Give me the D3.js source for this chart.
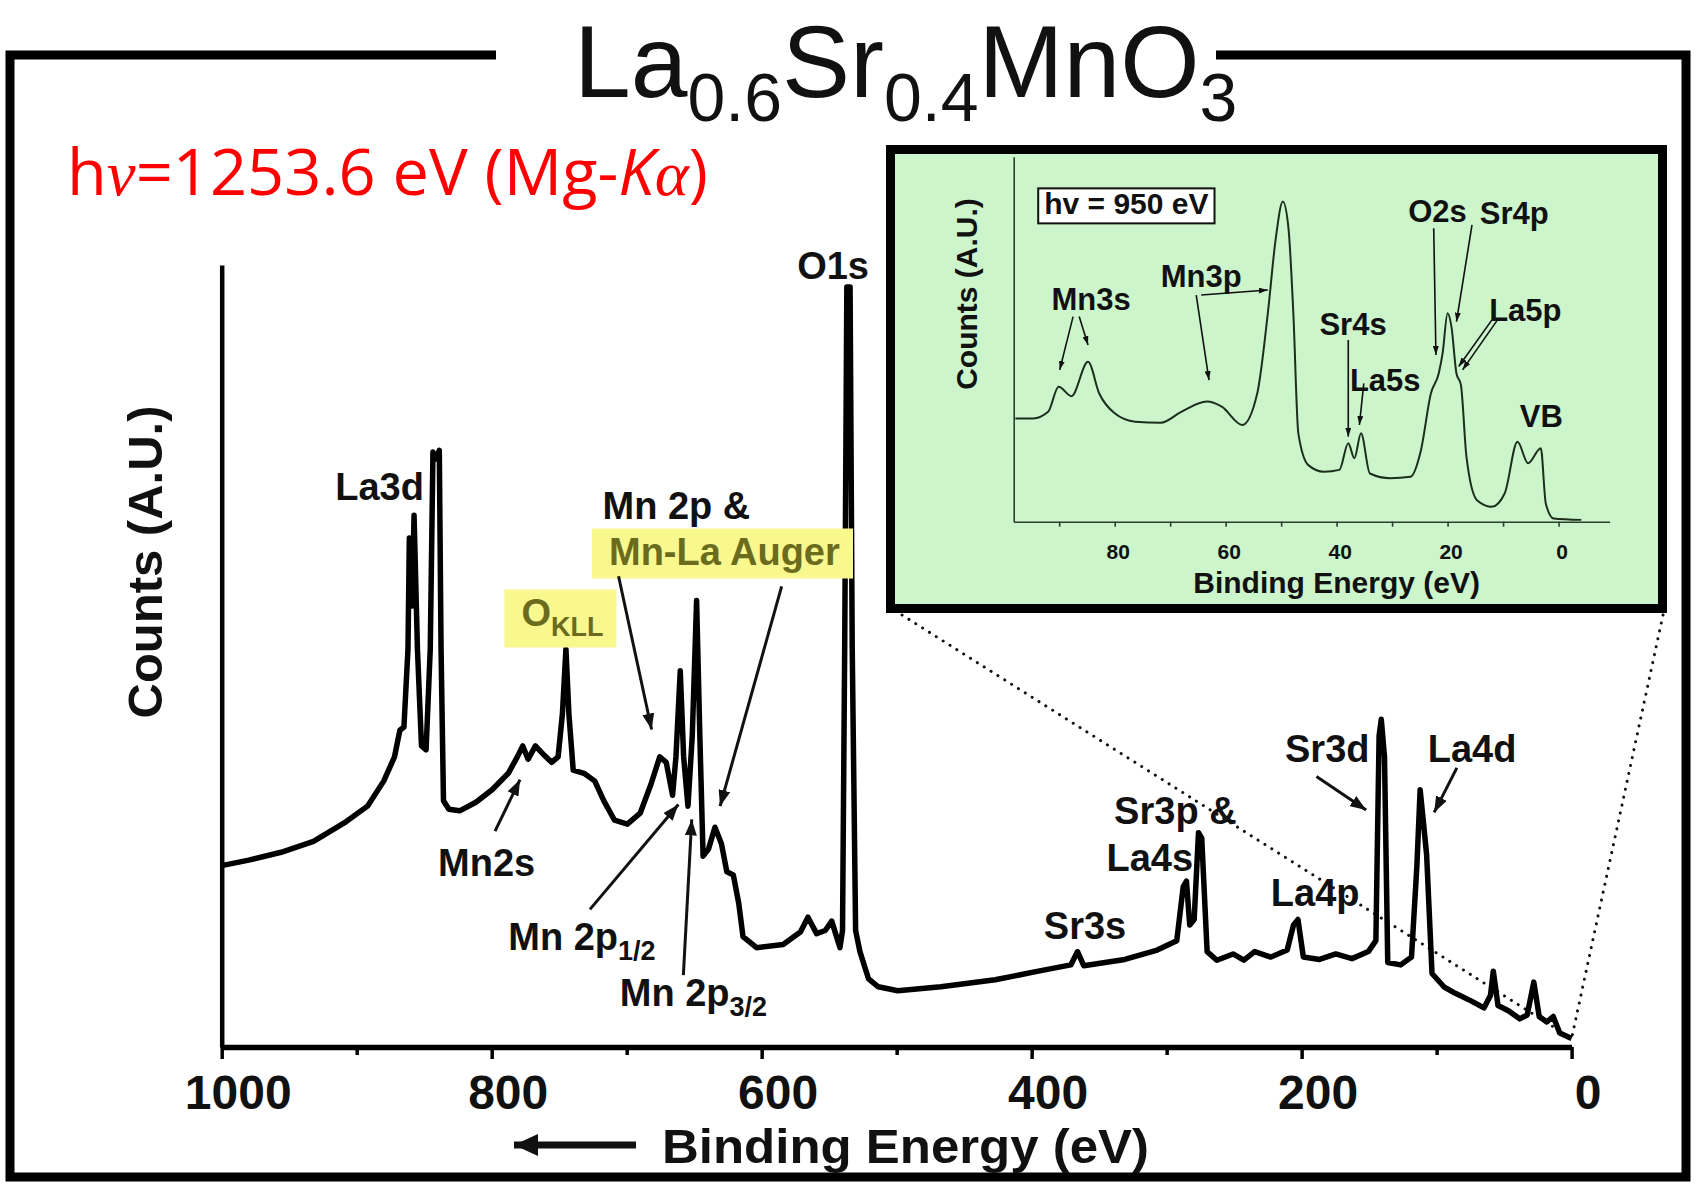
<!DOCTYPE html>
<meta charset="utf-8">
<head>
  <title>La0.6Sr0.4MnO3 XPS survey</title>
</head>

<style>
body {
  margin: 0;
  background: #fff;
}
svg text {
  font-family: "Liberation Sans", Arial, Helvetica, sans-serif;
}
.axis text {
  font-weight: bold;
  fill: #111;
}
</style>

<body>
<svg id="chart" width="1696" height="1184"></svg>

<script src="https://cdnjs.cloudflare.com/ajax/libs/d3/7.8.5/d3.min.js"></script>
<script>
// survey spectrum (binding energy eV / counts a.u.)
var surveyBE = [1000, 980, 956, 932, 908, 892, 880, 872, 868, 865,
  862, 861, 859, 857.5, 855, 852, 848.6, 845.5, 843.5, 841,
  838.8, 837.5, 835.7, 831.7, 823.7, 811.7, 799.7, 787.7, 781, 777,
  773, 767.6, 761, 755.6, 750.8, 747.6, 745, 742.8, 739.6, 731.6,
  723.6, 717, 709, 699.5, 690, 682, 675.5, 670.7, 666, 663.5,
  660.3, 657.8, 654.6, 651.4, 648.2, 645.8, 643.4, 639.4, 634.6, 629.8,
  625.8, 621, 617, 613.8, 603.8, 584.1, 571.3, 565.7, 559.3, 552.9,
  548.1, 542, 540.1, 538.5, 536.9, 534.5, 532.9, 530.4, 527.2, 520.8,
  513.6, 499.2, 467.2, 427, 395, 371, 366, 361.4, 331, 307,
  292.5, 287.7, 285.3, 282.9, 279.6, 276.4, 274, 270, 262.8, 250.8,
  242.8, 234.8, 222.8, 210.7, 206, 202.7, 198.7, 186.7, 174.7, 162.7,
  150.6, 145, 142.6, 141, 138.6, 136.2, 126.6, 118.6, 114.6, 112.2,
  109.8, 107.4, 103.4, 94.6, 86.5, 74.5, 64.9, 60.1, 58, 54.5,
  46.5, 38.5, 32.9, 28, 24, 18.4, 13.6, 8.8, 0];
var surveyCounts = [23.2, 23.9, 24.9, 26.3, 28.8, 30.8, 34.0, 37.1, 40.5, 40.9,
  50.9, 65.1, 56.4, 68.0, 50.9, 38.5, 38.0, 50.9, 76.1, 75.2,
  76.3, 50.9, 31.5, 30.4, 30.2, 31.3, 32.9, 35.0, 37.1, 38.5,
  36.8, 38.5, 37.3, 36.4, 37.1, 42.6, 50.9, 42.6, 35.4, 35.0,
  34.0, 31.5, 29.0, 28.5, 29.9, 33.6, 37.1, 36.4, 32.2, 37.1,
  48.1, 37.1, 30.8, 39.8, 57.1, 39.8, 24.4, 25.3, 28.1, 26.0,
  22.4, 22.0, 18.4, 14.1, 12.7, 13.1, 14.7, 16.6, 14.5, 14.9,
  16.1, 12.7, 14.9, 50.9, 97.2, 97.2, 50.9, 14.9, 12.2, 8.7,
  7.7, 7.2, 7.7, 8.6, 9.7, 10.5, 12.2, 10.4, 11.2, 12.4,
  13.6, 20.5, 21.2, 15.6, 16.3, 27.4, 26.7, 12.2, 11.1, 11.9,
  11.1, 12.2, 11.5, 12.4, 15.6, 16.3, 11.5, 11.2, 11.9, 11.3,
  12.2, 13.6, 39.8, 41.9, 37.1, 10.8, 10.5, 11.5, 23.2, 32.9,
  28.8, 24.6, 9.4, 7.7, 6.9, 5.9, 5.0, 6.6, 9.7, 5.3,
  4.6, 3.6, 4.1, 8.3, 3.9, 3.2, 3.9, 1.8, 1.1];

// valence region measured at 950 eV (inset)
var insetBE = [97.9, 94.7, 92, 90.1, 87.8, 84.8, 82.8, 80, 76.3, 71.7,
  68, 63.4, 60.7, 57, 54.3, 52.4, 51, 49.7, 48.7, 47.8,
  46.9, 45.1, 42.3, 39.5, 37.9, 36.8, 35.6, 34, 30.3, 26.7,
  24.8, 23, 21.6, 20.9, 20, 19.3, 18.4, 17.6, 16.6, 14.7,
  12, 9.7, 7.4, 5.5, 3.2, 2.3, 0.9, -4.1];
var insetCounts = [28.3, 28.3, 30.1, 37, 34.4, 43.8, 35.2, 29.7, 27.4, 27.1,
  30.1, 32.9, 31.5, 26.5, 35.2, 57.1, 77.2, 87.7, 80.8, 57.1,
  24.2, 15.5, 13.7, 14.2, 21.5, 17.4, 24.2, 13.2, 11.9, 12.3,
  19.6, 35.2, 40.6, 46.1, 57.1, 53.4, 40.6, 37.5, 17.8, 5.9,
  4.1, 7.8, 21.9, 16, 20.1, 5, 0.9, 0.5];

// ticks
var mainTicks = [1000, 800, 600, 400, 200, 0];
var mainMinorTicks = [900, 700, 500, 300, 100];
var insetTicks = [90, 80, 70, 60, 50, 40, 30, 20, 10, 0];
var insetTickLabels = [80, 60, 40, 20, 0];

// peak annotations, anchored in data units
var mainLabels = [
  {text: "La3d", be: 915.9, c: 70.0},
  {text: "O1s", be: 573.7, c: 98.2},
  {text: "Mn 2p &", be: 717.9, c: 67.5},
  {text: "Mn-La Auger", be: 713.1, c: 61.7, hi: true},
  {text: "O", sub: "KLL", be: 778.0, c: 53.9, hi: true},
  {text: "Mn2s", be: 839.7, c: 21.9},
  {text: "Mn 2p", sub: "1/2", be: 787.7, c: 12.4},
  {text: "Mn 2p", sub: "3/2", be: 705.1, c: 5.3},
  {text: "Sr3s", be: 391.0, c: 13.8},
  {text: "Sr3p &", be: 338.9, c: 28.5},
  {text: "La4s", be: 344.6, c: 22.5},
  {text: "La4p", be: 222.8, c: 18.0},
  {text: "Sr3d", be: 212.3, c: 36.4},
  {text: "La4d", be: 106.6, c: 36.4}
];
var mainArrows = [
  {from: [797.5, 27.6], to: [779, 34.2]},
  {from: [706, 60.2], to: [681.5, 40.6]},
  {from: [585.2, 58.9], to: [630.8, 30.8]},
  {from: [727.2, 17.6], to: [661.7, 31.0]},
  {from: [658, 9.2], to: [651.8, 29.1]},
  {from: [189, 34.6], to: [152.2, 30.3]},
  {from: [85, 35.7], to: [101.8, 30.0]}
];
var insetLabels = [
  {text: "Mn3s", be: 91.4, c: 57.9},
  {text: "Mn3p", be: 71.7, c: 64.4},
  {text: "Sr4s", be: 43.1, c: 51.1},
  {text: "La5s", be: 37.6, c: 35.7},
  {text: "O2s", be: 27.1, c: 82.2},
  {text: "Sr4p", be: 14.2, c: 81.6},
  {text: "La5p", be: 12.5, c: 54.9},
  {text: "VB", be: 7.0, c: 25.9}
];
var insetArrows = [
  {from: [87.5, 56.2], to: [89.9, 41.6]},
  {from: [86.4, 56.2], to: [84.8, 48.4]},
  {from: [65.3, 62.1], to: [63.0, 38.8]},
  {from: [64.4, 62.1], to: [52.4, 63.5]},
  {from: [37.9, 49.8], to: [37.9, 23.3]},
  {from: [35.1, 37.9], to: [35.9, 26.5]},
  {from: [22.5, 80.4], to: [22.1, 45.7]},
  {from: [15.6, 81.3], to: [18.4, 54.8]},
  {from: [12.0, 55.3], to: [18.0, 42.5]},
  {from: [11.0, 55.3], to: [17.3, 41.6]}
];
var insetNote = {text: "hv = 950 eV", be: 92.7, c: 84.2};

var svg = d3.select("#chart");

var survey = surveyBE.map(function(d, i) { return [d, surveyCounts[i]]; });
var valence = insetBE.map(function(d, i) { return [d, insetCounts[i]]; });

// scales
var x = d3.scaleLinear().domain([1000, 0]).range([221.7, 1571.6]);
var y = d3.scaleLinear().domain([0, 100]).range([1047, 265]);
var ix = d3.scaleLinear().domain([98.2, -9.2]).range([1013.7, 1609.6]);
var iy = d3.scaleLinear().domain([0, 100]).range([521.7, 156.7]);

// arrow heads
var defs = svg.append("defs");
function addHead(id, w, h) {
  defs.append("marker")
      .attr("id", id)
      .attr("viewBox", "0 0 10 10")
      .attr("refX", 10)
      .attr("refY", 5)
      .attr("markerWidth", w)
      .attr("markerHeight", h)
      .attr("markerUnits", "userSpaceOnUse")
      .attr("orient", "auto")
      .attr("preserveAspectRatio", "none")
    .append("path")
      .attr("d", "M0,0L10,5L0,10z")
      .attr("fill", "#111");
}
addHead("headMain", 16, 12);
addHead("headInset", 9, 6);
addHead("headTitle", 24, 22);

// outer frame, broken by the title
svg.append("path")
    .attr("d", "M496,55H10V1177H1686V55H1216")
    .attr("fill", "none")
    .attr("stroke", "#000")
    .attr("stroke-width", 9);

// title with subscripts
var title = svg.append("text")
    .attr("x", 574)
    .attr("y", 97)
    .style("font-size", "102px")
    .attr("fill", "#111");
[["La", 0], ["0.6", 1], ["Sr", 0], ["0.4", 1], ["MnO", 0], ["3", 1]].forEach(function(p, i, arr) {
  var prevSub = i > 0 && arr[i - 1][1];
  title.append("tspan")
      .attr("dy", p[1] ? 24 : (prevSub ? -24 : 0))
      .style("font-size", p[1] ? "68px" : "102px")
      .text(p[0]);
});

// excitation energy note (red)
var hv = svg.append("text")
    .attr("x", 67)
    .attr("y", 195)
    .attr("fill", "#ff0000")
    .style("font-family", '"Open Sans", "Noto Sans", sans-serif')
    .style("font-size", "64px");
hv.append("tspan").text("h");
hv.append("tspan").style("font-family", '"Liberation Serif", "DejaVu Serif", serif').style("font-style", "italic").text("\u03bd");
hv.append("tspan").text("=1253.6 eV (Mg-");
hv.append("tspan").style("font-style", "italic").text("K");
hv.append("tspan").style("font-family", '"Liberation Serif", "DejaVu Serif", serif').style("font-style", "italic").text("\u03b1");
hv.append("tspan").text(")");
hv.attr("textLength", 641).attr("lengthAdjust", "spacingAndGlyphs");

// zoom guide lines from the inset down to the low-energy end
var lastPt = survey[survey.length - 1];
[[902, 615], [1663, 615]].forEach(function(c) {
  svg.append("line")
      .attr("x1", c[0]).attr("y1", c[1])
      .attr("x2", x(lastPt[0])).attr("y2", y(lastPt[1]))
      .attr("stroke", "#111")
      .attr("stroke-width", 3)
      .attr("stroke-linecap", "round")
      .attr("stroke-dasharray", "0.1,8");
});

// main axes
var xAxis = svg.append("g")
    .attr("class", "x axis")
    .attr("transform", "translate(0,1047)")
    .call(d3.axisBottom(x).tickValues(mainTicks).tickSizeInner(12).tickSizeOuter(0).tickPadding(16).tickFormat(d3.format("d")));
xAxis.select(".domain").attr("stroke-width", 5.5).attr("stroke", "#000");
xAxis.selectAll(".tick line").attr("stroke-width", 3.5).attr("stroke", "#000");
xAxis.selectAll(".tick text").attr("dx", 16).style("font-size", "48px").attr("font-family", null);

var xMinor = svg.append("g")
    .attr("transform", "translate(0,1047)")
    .call(d3.axisBottom(x).tickValues(mainMinorTicks).tickSize(8).tickFormat(""));
xMinor.select(".domain").remove();
xMinor.selectAll(".tick line").attr("stroke-width", 3.5).attr("stroke", "#000");

var yAxis = svg.append("g")
    .attr("class", "y axis")
    .attr("transform", "translate(221.7,0)")
    .call(d3.axisLeft(y).tickValues([]).tickSizeOuter(0));
yAxis.select(".domain").attr("stroke-width", 4.5).attr("stroke", "#000");

// axis titles
svg.append("text")
    .attr("x", 662)
    .attr("y", 1163)
    .style("font-size", "48px")
    .style("font-weight", "bold")
    .attr("fill", "#111")
    .attr("textLength", 487)
    .attr("lengthAdjust", "spacingAndGlyphs")
    .text("Binding Energy (eV)");
svg.append("line")
    .attr("x1", 636).attr("y1", 1145)
    .attr("x2", 514).attr("y2", 1145)
    .attr("stroke", "#111")
    .attr("stroke-width", 7)
    .attr("marker-end", "url(#headTitle)");
svg.append("text")
    .attr("transform", "translate(162,562) rotate(-90)")
    .attr("text-anchor", "middle")
    .style("font-size", "49px")
    .style("font-weight", "bold")
    .attr("fill", "#111")
    .text("Counts (A.U.)");

// survey spectrum
var line = d3.line()
    .x(function(d) { return x(d[0]); })
    .y(function(d) { return y(d[1]); });
svg.append("path")
    .datum(survey)
    .attr("fill", "none")
    .attr("stroke", "#000")
    .attr("stroke-width", 5.5)
    .attr("stroke-linejoin", "round")
    .attr("d", line);

// peak labels
var hiLayer = svg.append("g");
var labelLayer = svg.append("g");
mainLabels.forEach(function(d) {
  var t = labelLayer.append("text")
      .attr("x", x(d.be))
      .attr("y", y(d.c))
      .style("font-size", "38px")
      .style("font-weight", "bold")
      .attr("fill", d.hi ? "#6b6b1e" : "#111")
      .text(d.text);
  if (d.sub) {
    t.append("tspan").attr("dy", 10).style("font-size", "27px").text(d.sub);
  }
  if (d.hi) {
    var b = t.node().getBBox();
    hiLayer.append("rect")
        .attr("x", b.x - 17)
        .attr("y", b.y - 2)
        .attr("width", b.width + 30)
        .attr("height", b.height + 8)
        .attr("fill", "#f8f88e");
  }
});
mainArrows.forEach(function(d) {
  svg.append("line")
      .attr("x1", x(d.from[0])).attr("y1", y(d.from[1]))
      .attr("x2", x(d.to[0])).attr("y2", y(d.to[1]))
      .attr("stroke", "#111")
      .attr("stroke-width", 3)
      .attr("marker-end", "url(#headMain)");
});

// ---- inset ----
var inset = svg.append("g");
inset.append("rect")
    .attr("x", 890.5).attr("y", 149.5)
    .attr("width", 772).attr("height", 459)
    .attr("fill", "#ccf5cc")
    .attr("stroke", "#000")
    .attr("stroke-width", 9);

var ixAxis = inset.append("g")
    .attr("class", "axis")
    .attr("transform", "translate(0,521.7)")
    .call(d3.axisBottom(ix).tickValues(insetTicks).tickSizeInner(5).tickSizeOuter(0).tickPadding(17)
      .tickFormat(function(d) { return insetTickLabels.indexOf(d) >= 0 ? d : ""; }));
ixAxis.select(".domain").attr("stroke", "#2e3e2e").attr("stroke-width", 1.6);
ixAxis.selectAll(".tick line").attr("stroke", "#2e3e2e").attr("stroke-width", 1.6);
ixAxis.selectAll(".tick text").attr("dx", 3).style("font-size", "21px").attr("font-family", null);

var iyAxis = inset.append("g")
    .attr("transform", "translate(1013.7,0)")
    .call(d3.axisLeft(iy).tickValues([]).tickSizeOuter(0));
iyAxis.select(".domain").attr("stroke", "#2e3e2e").attr("stroke-width", 1.6);

inset.append("text")
    .attr("x", ix(40))
    .attr("y", 593)
    .attr("text-anchor", "middle")
    .style("font-size", "30px")
    .style("font-weight", "bold")
    .attr("fill", "#111")
    .text("Binding Energy (eV)");
inset.append("text")
    .attr("transform", "translate(977,294) rotate(-90)")
    .attr("text-anchor", "middle")
    .style("font-size", "30px")
    .style("font-weight", "bold")
    .attr("fill", "#111")
    .text("Counts (A.U.)");

var iline = d3.line()
    .curve(d3.curveMonotoneX)
    .x(function(d) { return ix(d[0]); })
    .y(function(d) { return iy(d[1]); });
inset.append("path")
    .datum(valence)
    .attr("fill", "none")
    .attr("stroke", "#1c2e1c")
    .attr("stroke-width", 2)
    .attr("d", iline);

// photon energy box
var note = inset.append("text")
    .attr("x", ix(insetNote.be))
    .attr("y", iy(insetNote.c))
    .style("font-size", "30px")
    .style("font-weight", "bold")
    .attr("fill", "#111")
    .text(insetNote.text);
var nb = note.node().getBBox();
inset.insert("rect", function() { return note.node(); })
    .attr("x", nb.x - 6)
    .attr("y", nb.y + 1)
    .attr("width", nb.width + 12)
    .attr("height", nb.height + 2)
    .attr("fill", "#fff")
    .attr("stroke", "#111")
    .attr("stroke-width", 2);

insetLabels.forEach(function(d) {
  inset.append("text")
      .attr("x", ix(d.be))
      .attr("y", iy(d.c))
      .style("font-size", "31px")
      .style("font-weight", "bold")
      .attr("fill", "#111")
      .text(d.text);
});
insetArrows.forEach(function(d) {
  inset.append("line")
      .attr("x1", ix(d.from[0])).attr("y1", iy(d.from[1]))
      .attr("x2", ix(d.to[0])).attr("y2", iy(d.to[1]))
      .attr("stroke", "#111")
      .attr("stroke-width", 1.6)
      .attr("marker-end", "url(#headInset)");
});
</script>
</body>
</html>
